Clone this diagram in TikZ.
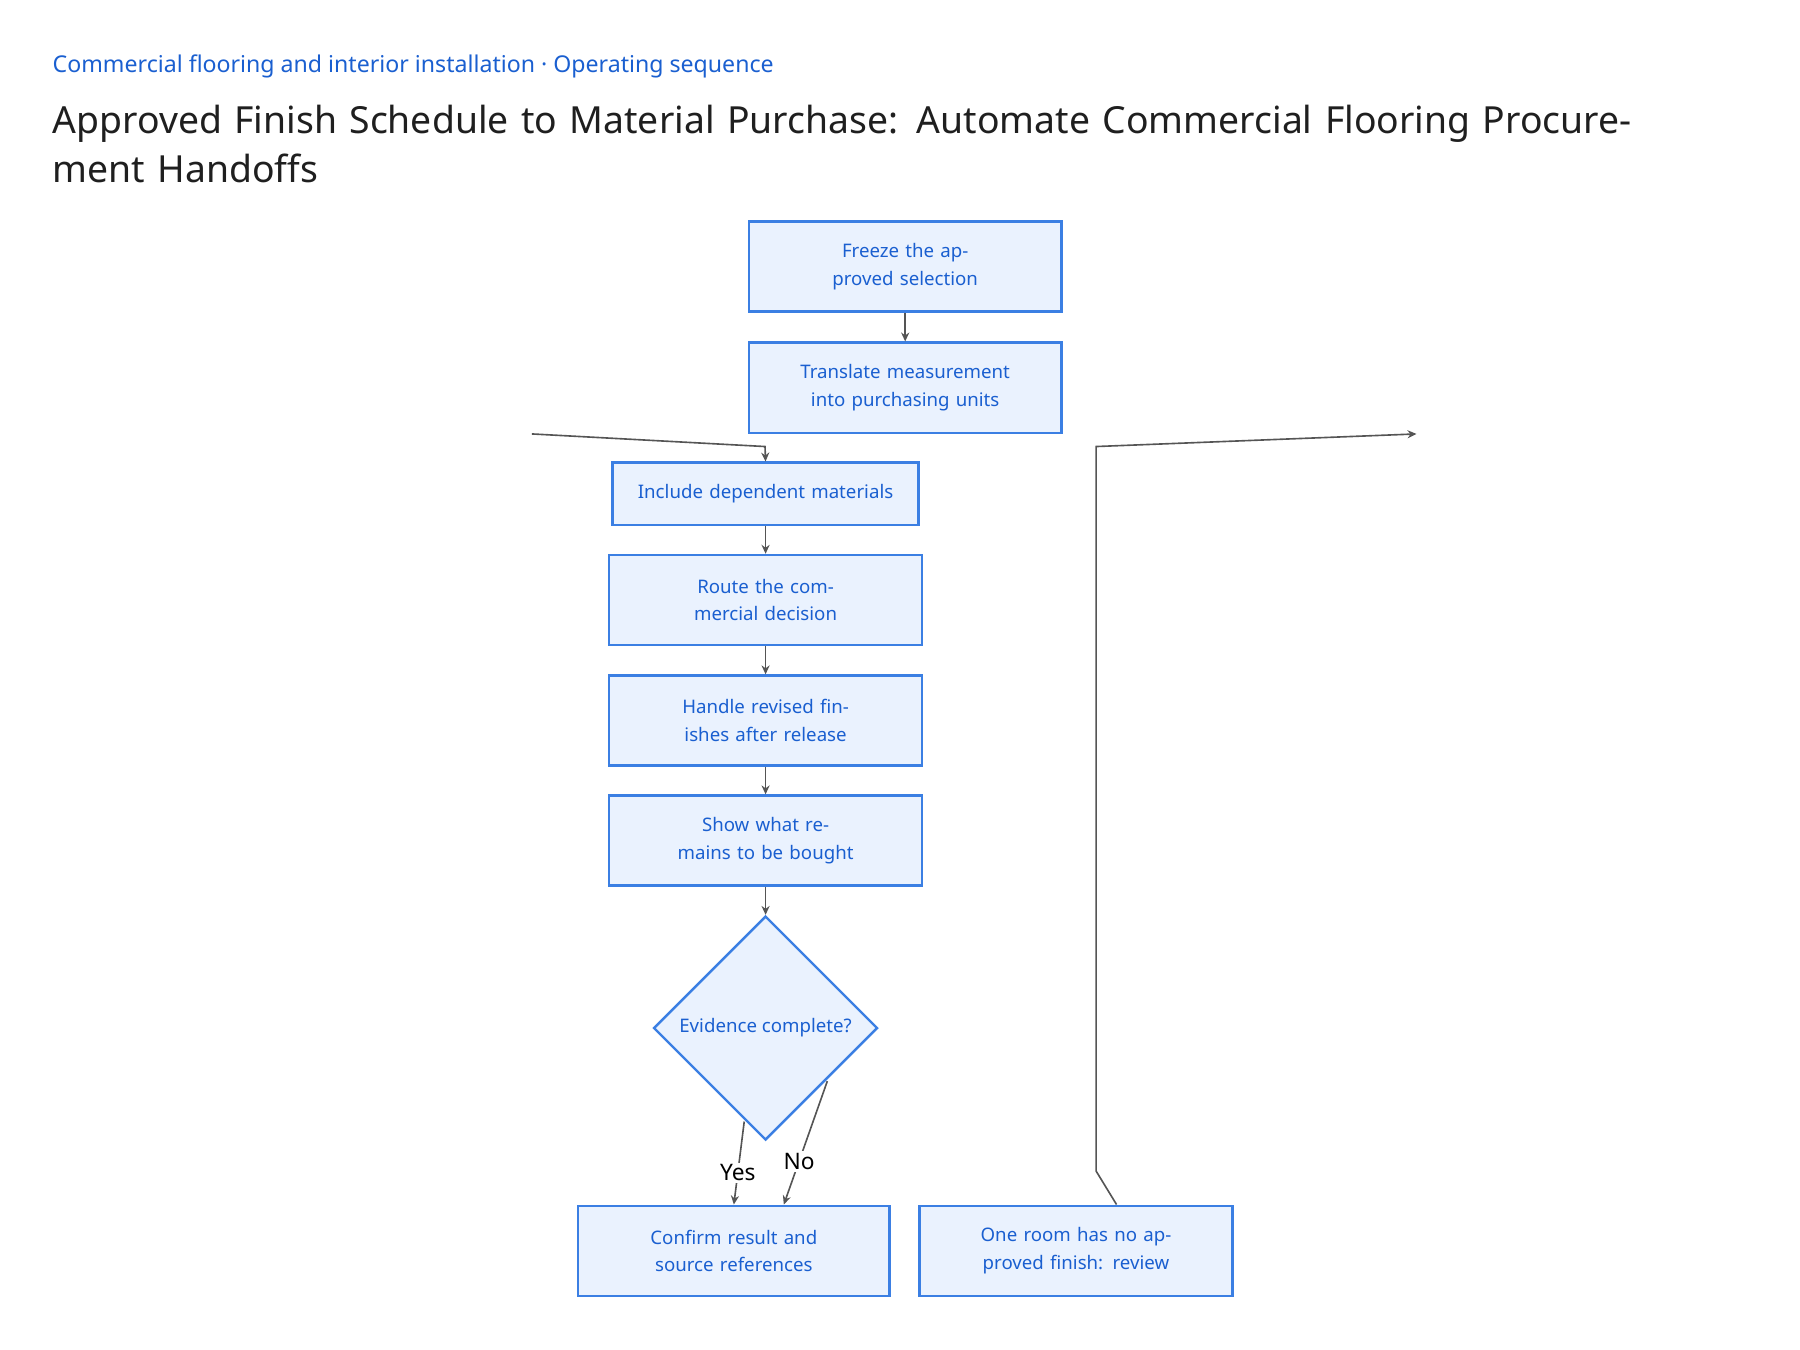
\documentclass[tikz,border=0pt]{standalone}
\usepackage{fontspec}
\setmainfont{Noto Sans}
\usetikzlibrary{arrows.meta,shapes.geometric,positioning}
\definecolor{boxFill}{HTML}{EAF2FE}
\definecolor{boxLine}{HTML}{3B7FE3}
\definecolor{boxText}{HTML}{1A5FD0}
\definecolor{edgeGrey}{HTML}{555555}
\tikzset{
  stepbox/.style={
    draw=boxLine, fill=boxFill, text=boxText, line width=0.6pt,
    minimum width=2.71cm, minimum height=0.78cm, text width=2.3cm,
    align=center, inner sep=0pt,
    font=\fontsize{4.6pt}{6.8pt}\selectfont
  },
  choice/.style={
    diamond, draw=boxLine, fill=boxFill, text=boxText, line width=0.6pt,
    minimum width=1.94cm, minimum height=1.94cm, inner sep=0pt,
    font=\fontsize{4.6pt}{6.8pt}\selectfont
  },
  flow/.style={draw=edgeGrey, line width=0.4pt, -{Stealth[length=2.2pt,width=2pt]}},
  tag/.style={fill=white, inner sep=0.5pt, font=\fontsize{5.6pt}{6.8pt}\selectfont}
}
\begin{document}
\begin{tikzpicture}[x=0.01cm,y=-0.01cm]
  \useasboundingbox (0,0) rectangle (1560,1170);

  % heading
  \node[anchor=west, inner sep=0pt, text=boxText, font=\fontsize{5.7pt}{7pt}\selectfont]
    (kicker) at (45,58) {Commercial flooring and interior installation · Operating sequence};
  \node[anchor=north west, inner sep=0pt, text width=13.9cm, align=left, text=black!88,
    font=\fontsize{9.2pt}{12.2pt}\selectfont]
    (title) at (45,90) {Approved Finish Schedule to Material Purchase: Automate Commercial Flooring Procurement Handoffs};

  % steps
  \node[stepbox] (freeze) at (784.5,231) {Freeze the approved selection};
  \node[stepbox] (translate) at (784.5,336) {Translate measurement into purchasing units};
  \node[stepbox, minimum width=2.65cm, minimum height=0.54cm, text width=2.6cm] (include) at (663.5,428) {Include dependent materials};
  \node[stepbox] (route) at (663.5,520) {Route the commercial decision};
  \node[stepbox] (revise) at (663.5,624.5) {Handle revised finishes after release};
  \node[stepbox] (remain) at (663.5,728.5) {Show what remains to be bought};
  \node[choice] (evidence) at (663.5,891) {Evidence complete?};
  \node[stepbox, minimum width=2.70cm] (confirm) at (636,1084) {Confirm result and source references};
  \node[stepbox] (review) at (932.5,1084) {One room has no approved finish: review};

  % connectors
  \draw[flow] (freeze) -- (translate);
  \draw[flow] ([xshift=-92]translate.south) -- (663,387) -- (include.north);
  \draw[flow] (include) -- (route);
  \draw[flow] (route) -- (revise);
  \draw[flow] (revise) -- (remain);
  \draw[flow] (remain) -- (evidence);
  \draw[flow] (645,972) -- node[tag, pos=0.62] {Yes} (confirm.north);
  \draw[flow] (717,937) -- node[tag, pos=0.65] {No} ([xshift=-72]review.north);
  \draw[flow] ([xshift=10]review.north) -- (950,1015) -- (950,387) -- ([xshift=126]translate.south);
\end{tikzpicture}
\end{document}
